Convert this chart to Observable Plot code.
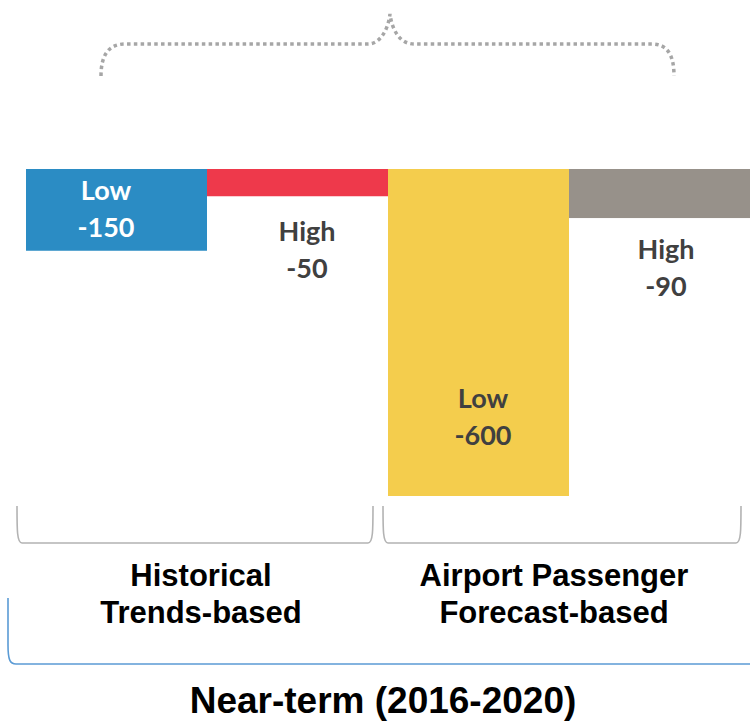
<!DOCTYPE html>
<html>
<head>
<meta charset="utf-8">
<script src="https://cdn.jsdelivr.net/npm/d3@7"></script>
<script src="https://cdn.jsdelivr.net/npm/@observablehq/plot@0.6"></script>
<style>
  html, body { margin: 0; padding: 0; background: #fff; }
  #chart svg { display: block; }
</style>
</head>
<body>
<div id="chart"></div>
<script>
// ---- data ----
const categories = ["Hist-Low", "Hist-High", "Forecast-Low", "Forecast-High"];
const values = [-150, -50, -600, -90];
const levelNames = ["Low", "High", "Low", "High"];
const barColors = ["#2B8CC4", "#EE394B", "#F4CD4D", "#97918A"];
const labelColors = ["#FFFFFF", "#404040", "#404040", "#404040"];
const groupNames = ["Historical\nTrends-based", "Airport Passenger\nForecast-based"];
const groupFirstCategory = ["Hist-Low", "Forecast-Low"];
const overallTitle = "Near-term (2016-2020)";

const rows = categories.map((c, i) => ({
  cat: c, value: values[i], label: levelNames[i] + "\n" + values[i],
  fill: barColors[i], textColor: labelColors[i]
}));

// label placement (offset from bar reference, in px)
const labelOpts = [
  {ref: "zero", dx: -11, dy: 4},
  {ref: "value", dx: 9, dy: 18},
  {ref: "value", dx: 4, dy: -115},
  {ref: "value", dx: 6, dy: 14}
];

const labelMarks = rows.map((r, i) => Plot.text([r], {
  x: "cat",
  y: labelOpts[i].ref === "zero" ? () => 0 : "value",
  text: "label",
  fill: r.textColor,
  dx: labelOpts[i].dx,
  dy: labelOpts[i].dy,
  lineAnchor: "top",
  lineHeight: 1.38,
  fontFamily: "Lato, 'Open Sans', sans-serif",
  fontWeight: "bold",
  fontSize: 27
}));

const plot = Plot.plot({
  width: 750,
  height: 724,
  marginLeft: 26,
  marginRight: 0,
  marginTop: 169,
  marginBottom: 228,
  x: {type: "band", domain: categories, padding: 0, axis: null},
  y: {domain: [-600, 0], axis: null},
  marks: [
    Plot.barY(rows, {x: "cat", y1: 0, y2: "value", fill: d => d.fill}),
    ...labelMarks
  ]
});

document.getElementById("chart").appendChild(plot);

// ---- annotations (braces, group labels) ----
const svg = d3.select(plot);
const xs = plot.scale("x");
const bw = xs.bandwidth;

const g = svg.append("g").attr("fill", "none");

// top dotted brace spanning all bars
g.append("path")
  .attr("d", "M101,76 C101,56 108,44 125,44 L368,44 C380,44 388,30 390,14 C392,30 400,44 414,44 L652,44 C668,44 674,56 674,76")
  .attr("stroke", "#A6A6A6")
  .attr("stroke-width", 3.5)
  .attr("stroke-dasharray", "3.5 3.3");

// bottom grey brackets per group
const brackets = [[17, 373], [383, 741]];
brackets.forEach(([a, b]) => {
  g.append("path")
    .attr("d", `M${a},506 C${a},530 ${a},543 ${a + 5},543 L${b - 5},543 C${b},543 ${b},530 ${b},506`)
    .attr("stroke", "#B3B3B3")
    .attr("stroke-width", 1.6);
});

// blue overall bracket
g.append("path")
  .attr("d", "M8,598 L8,645 C8,660 10,664 16,664 L750,664")
  .attr("stroke", "#5B9BD5")
  .attr("stroke-width", 1.6);

// group labels
const groupDx = [-6, -15];
groupNames.forEach((name, i) => {
  const cx = xs.apply(groupFirstCategory[i]) + bw + groupDx[i];
  const t = svg.append("text")
    .attr("text-anchor", "middle")
    .attr("font-family", "'Liberation Sans', Arial, sans-serif")
    .attr("font-weight", "bold")
    .attr("font-size", 31)
    .attr("fill", "#000");
  name.split("\n").forEach((line, j) => {
    t.append("tspan").attr("x", cx).attr("y", 586 + j * 37).text(line);
  });
});

svg.append("text")
  .attr("x", 383)
  .attr("y", 713)
  .attr("text-anchor", "middle")
  .attr("font-family", "'Liberation Sans', Arial, sans-serif")
  .attr("font-weight", "bold")
  .attr("font-size", 37)
  .attr("fill", "#000")
  .text(overallTitle);
</script>
</body>
</html>
